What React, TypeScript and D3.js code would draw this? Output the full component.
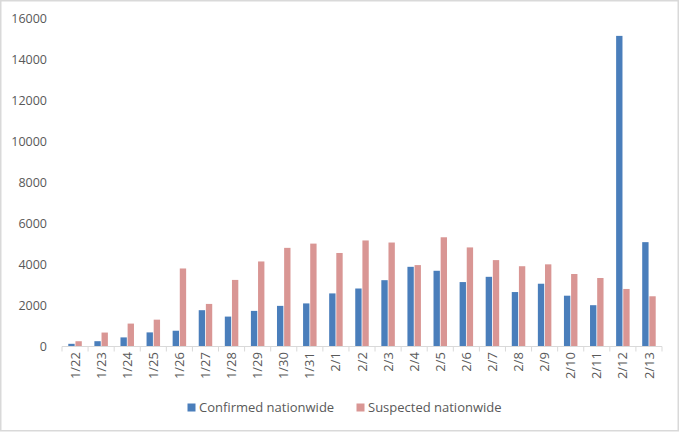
import React from "react";
import * as d3 from "d3";

const categories = ["1/22","1/23","1/24","1/25","1/26","1/27","1/28","1/29","1/30","1/31","2/1","2/2","2/3","2/4","2/5","2/6","2/7","2/8","2/9","2/10","2/11","2/12","2/13"];
const confirmed = [131,259,444,688,769,1771,1459,1737,1982,2102,2590,2829,3235,3887,3694,3143,3399,2656,3062,2478,2015,15152,5090];
const suspected = [257,680,1118,1309,3806,2077,3248,4148,4812,5019,4562,5173,5072,3971,5328,4833,4214,3916,4008,3536,3342,2807,2450];
const yTicks = [0,2000,4000,6000,8000,10000,12000,14000,16000];
const seriesNames = ["Confirmed nationwide","Suspected nationwide"];
const seriesColors = ["#4a7ebb","#d99694"];

const W = 680, H = 432;
const FONT = "'Open Sans', sans-serif";
const TXT = "#595959";

export default function App() {
  const x0 = d3.scaleBand<string>().domain(categories).range([62, 662]).paddingInner(0).paddingOuter(0);
  const step = x0.step();
  const x1 = d3.scaleBand<string>().domain(seriesNames).range([step / 2 - 6.75, step / 2 + 6.75]).paddingInner(0.11);
  const y = d3.scaleLinear().domain([0, 16000]).range([346.5, 18.5]);
  const data = [confirmed, suspected];
  const boundaries = d3.range(categories.length + 1).map(i => 62 + i * step);

  return (
    <svg width={W} height={H} style={{ position: "absolute", left: 0, top: 0 }} fontFamily={FONT}>
      <rect x={0} y={0} width={W} height={H} fill="#fff" />
      <rect x={0.75} y={0.75} width={W - 2.5} height={H - 2} fill="none" stroke="#d9d9d9" strokeWidth={1.5} />
      {yTicks.map(t => (
        <text key={t} x={47} y={y(t)} dy="0.35em" textAnchor="end" fontSize={12.5} fill={TXT}>{t}</text>
      ))}
      {data.map((vals, si) =>
        vals.map((v, i) => (
          <rect key={si + "-" + i}
            x={(x0(categories[i]) as number) + (x1(seriesNames[si]) as number)}
            y={y(v)} width={x1.bandwidth()} height={y(0) - y(v)} fill={seriesColors[si]} />
        ))
      )}
      <line x1={62} x2={662} y1={y(0)} y2={y(0)} stroke="#d9d9d9" strokeWidth={1} />
      {boundaries.map((b, i) => (
        <line key={i} x1={b} x2={b} y1={y(0)} y2={y(0) + 5} stroke="#d9d9d9" strokeWidth={1} />
      ))}
      {categories.map(c => {
        const cx = (x0(c) as number) + step / 2;
        return (
          <text key={c} transform={`translate(${cx},352) rotate(-90)`} dy="0.35em" textAnchor="end" fontSize={13} fill={TXT}>{c}</text>
        );
      })}
      {seriesNames.map((s, i) => {
        const lx = i === 0 ? 187.5 : 356.5;
        return (
          <g key={s}>
            <rect x={lx} y={403.5} width={8} height={8} fill={seriesColors[i]} />
            <text x={lx + 11.5} y={407.5} dy="0.35em" fontSize={13} fill={TXT}>{s}</text>
          </g>
        );
      })}
    </svg>
  );
}
